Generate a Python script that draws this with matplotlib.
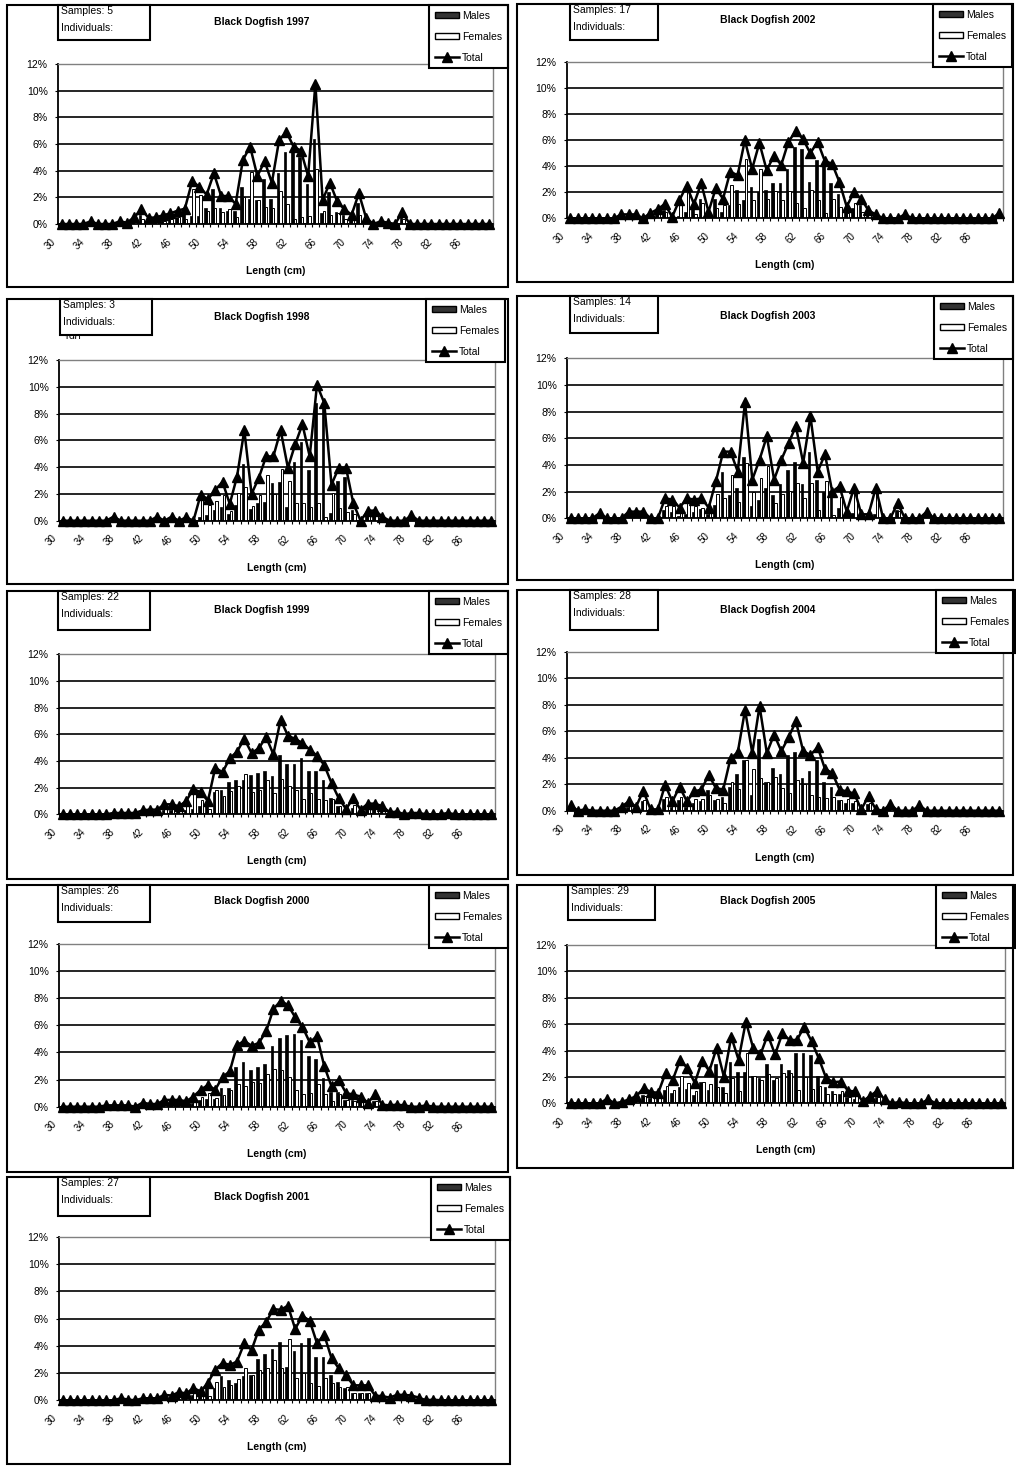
import matplotlib
matplotlib.use('Agg')
import matplotlib.pyplot as plt
from matplotlib.patches import Rectangle, Patch
from matplotlib.lines import Line2D
from matplotlib.transforms import Bbox, TransformedBbox, ScaledTranslation
import numpy as np

plt.rcParams['font.family'] = ['Liberation Sans', 'DejaVu Sans']

# ---------------- data ----------------
lengths = list(range(30, 90))
tick_values = list(range(30, 90, 4))
tick_labels = [str(v) for v in tick_values]
y_ticks = [0, 2, 4, 6, 8, 10, 12]
y_labels = [f"{v}%" for v in y_ticks]
series_names = ["Males", "Females", "Total"]
x_title = "Length (cm)"
title_fmt = "Black Dogfish {}"

males_1997 = [0, 0, 0, 0, 0.1, 0, 0, 0, 0.1, 0.1,
              0.3, 0.7, 0.25, 0.3, 0.4, 0.45, 0.5, 0.8, 0.6, 0.6,
              1.2, 2.6, 1.2, 1.0, 1.0, 2.8, 1.9, 1.8, 3.4, 1.9,
              3.8, 5.4, 5.4, 5.0, 3.0, 6.4, 0.8, 2.4, 0.9, 0.7,
              0.4, 1.6, 0.3, 0, 0.1, 0.1, 0, 0.5, 0, 0,
              0, 0, 0, 0, 0, 0, 0, 0, 0, 0]
females_1997 = [0, 0, 0, 0, 0.1, 0, 0, 0, 0.1, 0,
                0.2, 0.4, 0.2, 0.2, 0.25, 0.35, 0.5, 0.35, 2.6, 2.2,
                1.0, 1.2, 0.9, 1.1, 0.5, 2.0, 3.9, 1.8, 1.3, 1.2,
                2.5, 1.5, 0.4, 0.5, 0.6, 4.1, 1.0, 0.7, 0.8, 0.4,
                0.3, 0.7, 0.15, 0, 0.1, 0, 0, 0.4, 0, 0,
                0, 0, 0, 0, 0, 0, 0, 0, 0, 0]
total_1997 = [0, 0, 0, 0, 0.2, 0, 0, 0, 0.2, 0.1,
              0.5, 1.1, 0.45, 0.5, 0.65, 0.8, 1.0, 1.15, 3.2, 2.8,
              2.2, 3.8, 2.1, 2.1, 1.5, 4.8, 5.8, 3.6, 4.7, 3.1,
              6.3, 6.9, 5.8, 5.5, 3.6, 10.5, 1.8, 3.1, 1.7, 1.1,
              0.7, 2.3, 0.45, 0, 0.2, 0.1, 0, 0.9, 0, 0,
              0, 0, 0, 0, 0, 0, 0, 0, 0, 0]

males_1998 = [0, 0, 0, 0, 0, 0, 0, 0.15, 0, 0,
              0, 0, 0, 0.15, 0, 0.15, 0, 0.15, 0, 0.3,
              0.4, 0.8, 1.0, 0.5, 1.2, 4.2, 0.9, 1.3, 1.4, 2.8,
              2.9, 1.0, 4.4, 5.9, 3.8, 8.8, 8.5, 0.6, 3.0, 3.3,
              0.8, 0, 0.4, 0.4, 0.15, 0, 0, 0, 0.2, 0,
              0, 0, 0, 0, 0, 0, 0, 0, 0, 0]
females_1998 = [0, 0, 0, 0, 0, 0, 0, 0.15, 0, 0,
                0, 0, 0, 0.15, 0, 0.15, 0, 0.1, 0, 1.65,
                1.2, 1.5, 1.9, 0.75, 2.1, 2.55, 1.1, 1.9, 3.4, 2.0,
                3.85, 2.95, 1.3, 1.3, 1.0, 1.35, 0.3, 2.1, 0.95, 0.65,
                0.5, 0, 0.35, 0.35, 0.15, 0, 0, 0, 0.2, 0,
                0, 0, 0, 0, 0, 0, 0, 0, 0, 0]
total_1998 = [0, 0, 0, 0, 0, 0, 0, 0.3, 0, 0,
              0, 0, 0, 0.3, 0, 0.3, 0, 0.25, 0, 1.95,
              1.6, 2.3, 2.9, 1.25, 3.3, 6.75, 2.0, 3.2, 4.8, 4.8,
              6.75, 3.95, 5.7, 7.2, 4.8, 10.15, 8.8, 2.7, 3.95, 3.95,
              1.3, 0, 0.75, 0.75, 0.3, 0, 0, 0, 0.4, 0,
              0, 0, 0, 0, 0, 0, 0, 0, 0, 0]

males_1999 = [0, 0, 0, 0, 0, 0, 0, 0.05, 0.05, 0.05,
              0.05, 0.15, 0.2, 0.2, 0.35, 0.35, 0.3, 0.3, 0.4, 0.6,
              0.6, 1.7, 1.8, 2.45, 2.6, 2.6, 2.95, 3.1, 3.25, 2.9,
              4.45, 3.8, 3.8, 4.2, 3.25, 3.25, 2.6, 1.2, 0.6, 0.2,
              0.5, 0.2, 0.4, 0.4, 0.3, 0.1, 0.1, 0, 0.05, 0.05,
              0, 0, 0, 0.05, 0, 0, 0, 0, 0, 0]
females_1999 = [0, 0, 0, 0, 0, 0, 0, 0.05, 0.05, 0.05,
                0.05, 0.15, 0.15, 0.15, 0.4, 0.4, 0.3, 0.7, 1.5, 1.05,
                0.4, 1.8, 1.35, 1.75, 2.1, 3.05, 1.65, 1.85, 2.55, 1.6,
                2.65, 2.1, 1.85, 1.15, 1.6, 1.15, 1.1, 1.15, 0.6, 0.2,
                0.7, 0.15, 0.4, 0.4, 0.3, 0.05, 0.1, 0, 0.05, 0.05,
                0, 0, 0, 0.05, 0, 0, 0, 0, 0, 0]
total_1999 = [0, 0, 0, 0, 0, 0, 0, 0.1, 0.1, 0.1,
              0.1, 0.3, 0.35, 0.35, 0.75, 0.75, 0.6, 1.0, 1.9, 1.65,
              1.0, 3.5, 3.15, 4.2, 4.7, 5.65, 4.6, 4.95, 5.8, 4.5,
              7.1, 5.9, 5.65, 5.35, 4.85, 4.4, 3.7, 2.35, 1.2, 0.4,
              1.2, 0.35, 0.8, 0.8, 0.6, 0.15, 0.2, 0, 0.1, 0.1,
              0, 0, 0, 0.1, 0, 0, 0, 0, 0, 0]

males_2000 = [0, 0, 0, 0, 0, 0, 0.05, 0.05, 0.05, 0.05,
              0, 0.15, 0.1, 0.1, 0.25, 0.25, 0.25, 0.2, 0.3, 0.5,
              0.6, 0.6, 1.35, 1.35, 2.9, 3.3, 2.7, 2.95, 3.15, 4.45,
              5.1, 5.3, 5.35, 4.95, 3.75, 3.5, 2.1, 1.1, 1.1, 0.5,
              0.5, 0.4, 0.15, 0.45, 0.1, 0.05, 0.1, 0.05, 0, 0,
              0.05, 0, 0, 0, 0, 0, 0, 0, 0, 0]
females_2000 = [0, 0, 0, 0, 0, 0, 0.05, 0.05, 0.05, 0.05,
                0, 0.15, 0.1, 0.1, 0.25, 0.25, 0.25, 0.2, 0.45, 0.75,
                1.0, 0.65, 0.85, 1.25, 1.65, 1.55, 1.8, 1.75, 2.4, 2.75,
                2.7, 2.2, 1.25, 0.95, 1.0, 1.7, 0.9, 0.4, 0.9, 0.5,
                0.4, 0.35, 0.15, 0.45, 0.05, 0.05, 0.05, 0.05, 0, 0,
                0.05, 0, 0, 0, 0, 0, 0, 0, 0, 0]
total_2000 = [0, 0, 0, 0, 0, 0, 0.1, 0.1, 0.1, 0.1,
              0, 0.3, 0.2, 0.2, 0.5, 0.5, 0.5, 0.4, 0.75, 1.25,
              1.6, 1.25, 2.2, 2.6, 4.55, 4.85, 4.5, 4.7, 5.55, 7.2,
              7.8, 7.5, 6.6, 5.9, 4.75, 5.2, 3.0, 1.5, 2.0, 1.0,
              0.9, 0.75, 0.3, 0.9, 0.15, 0.1, 0.15, 0.1, 0, 0,
              0.1, 0, 0, 0, 0, 0, 0, 0, 0, 0]

males_2001 = [0, 0, 0, 0, 0, 0, 0, 0, 0.1, 0.05,
              0, 0.1, 0.1, 0.1, 0.2, 0.2, 0.3, 0.25, 0.4, 0.3,
              1.0, 0.9, 1.8, 1.5, 1.3, 1.8, 1.85, 3.0, 3.4, 3.75,
              4.3, 2.45, 3.6, 4.2, 4.6, 3.15, 3.15, 1.85, 1.35, 0.9,
              0.55, 0.55, 0.55, 0.2, 0.15, 0.1, 0.2, 0.2, 0.2, 0.1,
              0, 0.05, 0, 0, 0, 0, 0, 0, 0, 0]
females_2001 = [0, 0, 0, 0, 0, 0, 0, 0, 0.05, 0,
                0, 0.05, 0.05, 0.05, 0.2, 0.15, 0.3, 0.25, 0.5, 0.35,
                0.3, 1.35, 0.95, 1.1, 1.55, 2.4, 1.85, 2.2, 2.35, 2.95,
                2.35, 4.5, 1.65, 2.0, 1.25, 1.05, 1.65, 1.25, 1.0, 0.95,
                0.55, 0.55, 0.55, 0.15, 0.15, 0.1, 0.2, 0.2, 0.15, 0.1,
                0, 0, 0, 0, 0, 0, 0, 0, 0, 0]
total_2001 = [0, 0, 0, 0, 0, 0, 0, 0, 0.15, 0.05,
              0, 0.15, 0.15, 0.15, 0.4, 0.35, 0.6, 0.5, 0.9, 0.65,
              1.3, 2.25, 2.75, 2.6, 2.85, 4.2, 3.7, 5.2, 5.75, 6.7,
              6.65, 6.95, 5.25, 6.2, 5.85, 4.2, 4.8, 3.1, 2.35, 1.85,
              1.1, 1.1, 1.1, 0.35, 0.3, 0.2, 0.4, 0.4, 0.35, 0.2,
              0, 0.05, 0, 0, 0, 0, 0, 0, 0, 0]

males_2002 = [0, 0, 0, 0, 0, 0, 0, 0.15, 0.15, 0.15,
              0, 0.2, 0.4, 0.6, 0.05, 0.2, 0.5, 0.8, 1.5, 0.3,
              1.5, 0.5, 1.0, 2.2, 1.4, 2.4, 2.0, 2.2, 2.7, 2.7,
              3.8, 5.5, 5.3, 2.8, 4.5, 4.0, 2.7, 1.9, 0.5, 0.8,
              1.0, 0.3, 0.2, 0, 0, 0, 0.2, 0, 0, 0,
              0, 0, 0, 0, 0, 0, 0, 0, 0, 0.2]
females_2002 = [0, 0, 0, 0, 0, 0, 0, 0.15, 0.15, 0.15,
                0, 0.2, 0.3, 0.5, 0.05, 1.2, 2.0, 0.3, 1.2, 0.2,
                0.8, 1.0, 2.6, 1.1, 4.6, 1.4, 3.8, 1.5, 2.1, 1.4,
                2.1, 1.2, 0.8, 2.2, 1.4, 0.4, 1.5, 0.9, 0.4, 1.2,
                0.5, 0.3, 0.1, 0, 0, 0, 0.1, 0, 0, 0,
                0, 0, 0, 0, 0, 0, 0, 0, 0, 0.2]
total_2002 = [0, 0, 0, 0, 0, 0, 0, 0.3, 0.3, 0.3,
              0, 0.4, 0.7, 1.1, 0.1, 1.4, 2.5, 1.1, 2.7, 0.5,
              2.3, 1.5, 3.6, 3.3, 6.0, 3.8, 5.8, 3.7, 4.8, 4.1,
              5.9, 6.7, 6.1, 5.0, 5.9, 4.4, 4.2, 2.8, 0.9, 2.0,
              1.5, 0.6, 0.3, 0, 0, 0, 0.3, 0, 0, 0,
              0, 0, 0, 0, 0, 0, 0, 0, 0, 0.4]

males_2003 = [0, 0, 0, 0, 0.2, 0, 0, 0, 0.25, 0.25,
              0.25, 0, 0, 0.6, 0.5, 0.2, 0.3, 0.5, 0.7, 0.3,
              1.0, 3.45, 1.75, 2.25, 4.6, 0.9, 1.4, 2.25, 1.75, 2.6,
              3.6, 4.25, 2.6, 5.0, 2.9, 2.0, 1.75, 0.8, 0.3, 0.4,
              0.15, 0.15, 0.3, 0, 0, 0.6, 0, 0, 0, 0.3,
              0, 0, 0, 0, 0, 0, 0, 0, 0, 0]
females_2003 = [0, 0, 0, 0, 0.2, 0, 0, 0, 0.25, 0.25,
                0.25, 0, 0, 0.9, 0.9, 0.6, 1.2, 0.9, 0.8, 0.5,
                1.8, 1.55, 3.25, 1.25, 4.15, 2.0, 3.0, 3.9, 1.15, 1.8,
                2.05, 2.65, 1.55, 2.65, 0.6, 2.8, 0.25, 1.6, 0.2, 1.9,
                0.15, 0.15, 2.0, 0, 0, 0.55, 0, 0, 0, 0.2,
                0, 0, 0, 0, 0, 0, 0, 0, 0, 0]
total_2003 = [0, 0, 0, 0, 0.4, 0, 0, 0, 0.5, 0.5,
              0.5, 0, 0, 1.5, 1.4, 0.8, 1.5, 1.4, 1.5, 0.8,
              2.8, 5.0, 5.0, 3.5, 8.75, 2.9, 4.4, 6.15, 2.9, 4.4,
              5.65, 6.9, 4.15, 7.65, 3.5, 4.8, 2.0, 2.4, 0.5, 2.3,
              0.3, 0.3, 2.3, 0, 0, 1.15, 0, 0, 0, 0.5,
              0, 0, 0, 0, 0, 0, 0, 0, 0, 0]

males_2004 = [0.2, 0, 0.05, 0, 0, 0, 0, 0.15, 0.3, 0.15,
              0.7, 0.05, 0.05, 0.9, 0.3, 0.8, 0.3, 0.6, 0.7, 1.55,
              0.8, 1.0, 1.8, 2.75, 3.8, 1.2, 5.4, 2.2, 3.2, 2.8,
              4.2, 4.45, 2.45, 3.0, 3.8, 2.2, 1.8, 0.8, 0.6, 0.6,
              0.05, 0.5, 0.05, 0, 0.25, 0, 0, 0, 0.2, 0,
              0, 0, 0, 0, 0, 0, 0, 0, 0, 0]
females_2004 = [0.2, 0, 0.05, 0, 0, 0, 0, 0.15, 0.4, 0.15,
                0.8, 0.05, 0.05, 1.05, 0.4, 1.0, 0.4, 0.85, 0.9, 1.15,
                0.9, 0.6, 2.15, 1.65, 3.8, 3.15, 2.5, 2.15, 2.55, 1.7,
                1.35, 2.3, 2.05, 1.2, 1.0, 0.95, 1.05, 0.8, 0.85, 0.7,
                0.05, 0.6, 0.05, 0, 0.25, 0, 0, 0, 0.2, 0,
                0, 0, 0, 0, 0, 0, 0, 0, 0, 0]
total_2004 = [0.4, 0, 0.1, 0, 0, 0, 0, 0.3, 0.7, 0.3,
              1.5, 0.1, 0.1, 1.95, 0.7, 1.8, 0.7, 1.45, 1.6, 2.7,
              1.7, 1.6, 3.95, 4.4, 7.6, 4.35, 7.9, 4.35, 5.75, 4.5,
              5.55, 6.75, 4.5, 4.2, 4.8, 3.15, 2.85, 1.6, 1.45, 1.3,
              0.1, 1.1, 0.1, 0, 0.5, 0, 0, 0, 0.4, 0,
              0, 0, 0, 0, 0, 0, 0, 0, 0, 0]

males_2005 = [0, 0, 0, 0, 0, 0.2, 0, 0.05, 0.15, 0.3,
              0.6, 0.4, 0.4, 1.0, 0.8, 1.2, 1.1, 0.6, 1.6, 1.0,
              3.0, 1.2, 3.1, 2.4, 2.4, 2.1, 1.9, 3.0, 1.75, 3.0,
              2.5, 3.8, 3.8, 3.65, 2.1, 1.2, 0.9, 0.7, 0.5, 0.3,
              0.1, 0.3, 0.5, 0.15, 0, 0.05, 0, 0, 0, 0.15,
              0, 0, 0, 0, 0, 0, 0, 0, 0, 0]
females_2005 = [0, 0, 0, 0, 0, 0.15, 0, 0.05, 0.15, 0.25,
                0.55, 0.45, 0.4, 1.3, 1.0, 2.1, 1.55, 0.95, 1.6, 1.45,
                1.2, 0.8, 1.95, 0.9, 3.8, 2.1, 1.8, 2.2, 1.95, 2.3,
                2.3, 1.0, 2.0, 1.05, 1.3, 0.7, 0.7, 0.95, 0.45, 0.6,
                0.05, 0.25, 0.45, 0.15, 0, 0.05, 0, 0, 0, 0.15,
                0, 0, 0, 0, 0, 0, 0, 0, 0, 0]
total_2005 = [0, 0, 0, 0, 0, 0.35, 0, 0.1, 0.3, 0.55,
              1.15, 0.85, 0.8, 2.3, 1.8, 3.3, 2.65, 1.55, 3.2, 2.45,
              4.2, 2.0, 5.05, 3.3, 6.2, 4.2, 3.7, 5.2, 3.7, 5.3,
              4.8, 4.8, 5.8, 4.7, 3.4, 1.9, 1.6, 1.65, 0.95, 0.9,
              0.15, 0.55, 0.95, 0.3, 0, 0.1, 0, 0, 0, 0.3,
              0, 0, 0, 0, 0, 0, 0, 0, 0, 0]

samples = {1997: 5, 1998: 3, 1999: 22, 2000: 26, 2001: 27,
           2002: 17, 2003: 14, 2004: 28, 2005: 29}

data = {
    1997: (males_1997, females_1997, total_1997),
    1998: (males_1998, females_1998, total_1998),
    1999: (males_1999, females_1999, total_1999),
    2000: (males_2000, females_2000, total_2000),
    2001: (males_2001, females_2001, total_2001),
    2002: (males_2002, females_2002, total_2002),
    2003: (males_2003, females_2003, total_2003),
    2004: (males_2004, females_2004, total_2004),
    2005: (males_2005, females_2005, total_2005),
}

# ---------------- layout (pixels) ----------------
W, H = 1016, 1466
layout = {
    1997: dict(border=(7, 5, 508, 287), plot=(58, 64, 493, 224), sbox=(58, 5, 150, 40), leg=(508, 5), ty=22, tx=262),
    1998: dict(border=(7, 299, 508, 584), plot=(59, 360, 495, 520.7), sbox=(60, 299, 152, 335), leg=(505, 299), ty=317, tx=262),
    1999: dict(border=(7, 591, 508, 879), plot=(59, 654.3, 495, 814.3), sbox=(58, 591, 150, 630), leg=(508, 591), ty=610, tx=262),
    2000: dict(border=(7, 885, 508, 1172), plot=(59, 944, 495, 1106.7), sbox=(58, 885, 150, 922), leg=(508, 885), ty=901, tx=262),
    2001: dict(border=(7, 1177, 510, 1464), plot=(59, 1237, 495, 1400.3), sbox=(58, 1177, 150, 1216), leg=(510, 1177), ty=1197, tx=262),
    2002: dict(border=(517, 4, 1013, 282), plot=(566.7, 62.3, 1003, 218.3), sbox=(570, 4, 658, 40), leg=(1012, 4), ty=20, tx=768),
    2003: dict(border=(517, 296, 1013, 580), plot=(567, 358.3, 1003, 518.3), sbox=(570, 296, 658, 333), leg=(1013, 296), ty=316, tx=768),
    2004: dict(border=(517, 590, 1013, 875), plot=(567, 651.7, 1003, 810.7), sbox=(570, 590, 658, 630), leg=(1015, 590), ty=610, tx=768),
    2005: dict(border=(517, 885, 1013, 1168), plot=(567, 945, 1005, 1103.3), sbox=(568, 885, 655, 920), leg=(1015, 885), ty=901, tx=768),
}

fig = plt.figure(figsize=(W / 100, H / 100), dpi=100)
fig.patch.set_facecolor('white')


def fx(x):
    return x / W


def fy(y):
    return 1 - y / H


def rect(x0, y0, x1, y1, **kw):
    r = Rectangle((fx(x0), fy(y1)), (x1 - x0) / W, (y1 - y0) / H,
                  transform=fig.transFigure, **kw)
    fig.add_artist(r)
    return r


x = np.arange(len(lengths))
bw = 0.36

for year, L in layout.items():
    males, females, total = data[year]
    # panel border
    rect(*L['border'], fill=False, edgecolor='black', linewidth=1.5, zorder=1)

    px0, py0, px1, py1 = L['plot']
    ax = fig.add_axes([fx(px0), fy(py1), (px1 - px0) / W, (py1 - py0) / H])
    ax.set_facecolor('none')
    ax.bar(x - bw / 2, males, width=bw, color='black', edgecolor='black', linewidth=0.5, zorder=2)
    ax.bar(x + bw / 2, females, width=bw, color='white', edgecolor='black', linewidth=0.7, zorder=2)
    ax.plot(x, total, color='black', linewidth=1.8, marker='^', markersize=6.5,
            clip_on=False, zorder=4)

    ax.set_xlim(-0.5, len(lengths) - 0.5)
    ax.set_ylim(0, 12)
    ax.set_yticks(y_ticks)
    ax.set_yticklabels(y_labels, fontsize=7.5)
    ax.set_xticks([lengths.index(v) for v in tick_values])
    ax.set_xticklabels(tick_labels, fontsize=7, rotation=45, ha='right')
    ax.set_xticks(np.arange(-0.5, len(lengths), 1), minor=True)
    ax.tick_params(axis='x', which='major', length=0, pad=9)
    ax.tick_params(axis='x', which='minor', length=2.5, width=0.8, direction='out')
    ax.tick_params(axis='y', which='major', length=2.5, width=0.8, direction='out', pad=5)
    off = ScaledTranslation(-4 / 100, 0, fig.dpi_scale_trans)
    for lab in ax.get_xticklabels():
        lab.set_transform(lab.get_transform() + off)
    ax.set_axisbelow(True)
    ax.yaxis.grid(True, color='black', linewidth=1.2)
    ax.xaxis.grid(False)
    for s in ('left', 'bottom'):
        ax.spines[s].set_color('black')
        ax.spines[s].set_linewidth(1.3)
    for s in ('top', 'right'):
        ax.spines[s].set_color('#808080')
        ax.spines[s].set_linewidth(1.0)

    # x title
    fig.text(fx((px0 + px1) / 2), fy(py1 + 47), x_title, fontsize=7.5,
             fontweight='bold', ha='center', va='center')
    # chart title
    fig.text(fx(L['tx']), fy(L['ty']), title_fmt.format(year), fontsize=7.5,
             fontweight='bold', ha='center', va='center')

    # samples box
    sx0, sy0, sx1, sy1 = L['sbox']
    rect(sx0, sy0, sx1, sy1, facecolor='white', edgecolor='black', linewidth=1.5, zorder=3)
    fig.text(fx(sx0 + 3), fy(sy0 + 1), f"Samples: {samples[year]}", fontsize=7.5,
             ha='left', va='top', zorder=4)
    fig.text(fx(sx0 + 3), fy(sy0 + 18), "Individuals:", fontsize=7.5,
             ha='left', va='top', zorder=4)
    if year == 1998:
        t = fig.text(fx(sx0 + 3), fy(sy0 + 35), "190", fontsize=7.5,
                     ha='left', va='top', zorder=4)
        t.set_clip_box(TransformedBbox(Bbox.from_extents(fx(sx0), fy(sy1 + 4), fx(sx1), fy(sy1 + 1)),
                                       fig.transFigure))
        t.set_clip_on(True)

    # legend
    handles = [Patch(facecolor='#333333', edgecolor='black', linewidth=1.0),
               Patch(facecolor='white', edgecolor='black', linewidth=1.0),
               Line2D([], [], color='black', linewidth=1.8, marker='^', markersize=6.5)]
    lx, ly = L['leg']
    leg = ax.legend(handles, series_names, loc='upper right',
                    bbox_to_anchor=(fx(lx), fy(ly)), bbox_transform=fig.transFigure,
                    fontsize=7.5, frameon=True, fancybox=False, framealpha=1,
                    edgecolor='black', handlelength=2.3, handleheight=0.55,
                    handletextpad=0.3, labelspacing=1.05, borderpad=0.55,
                    borderaxespad=0)
    leg.get_frame().set_linewidth(1.5)
    leg.set_zorder(6)

fig.savefig('out.png', dpi=100, facecolor='white')
